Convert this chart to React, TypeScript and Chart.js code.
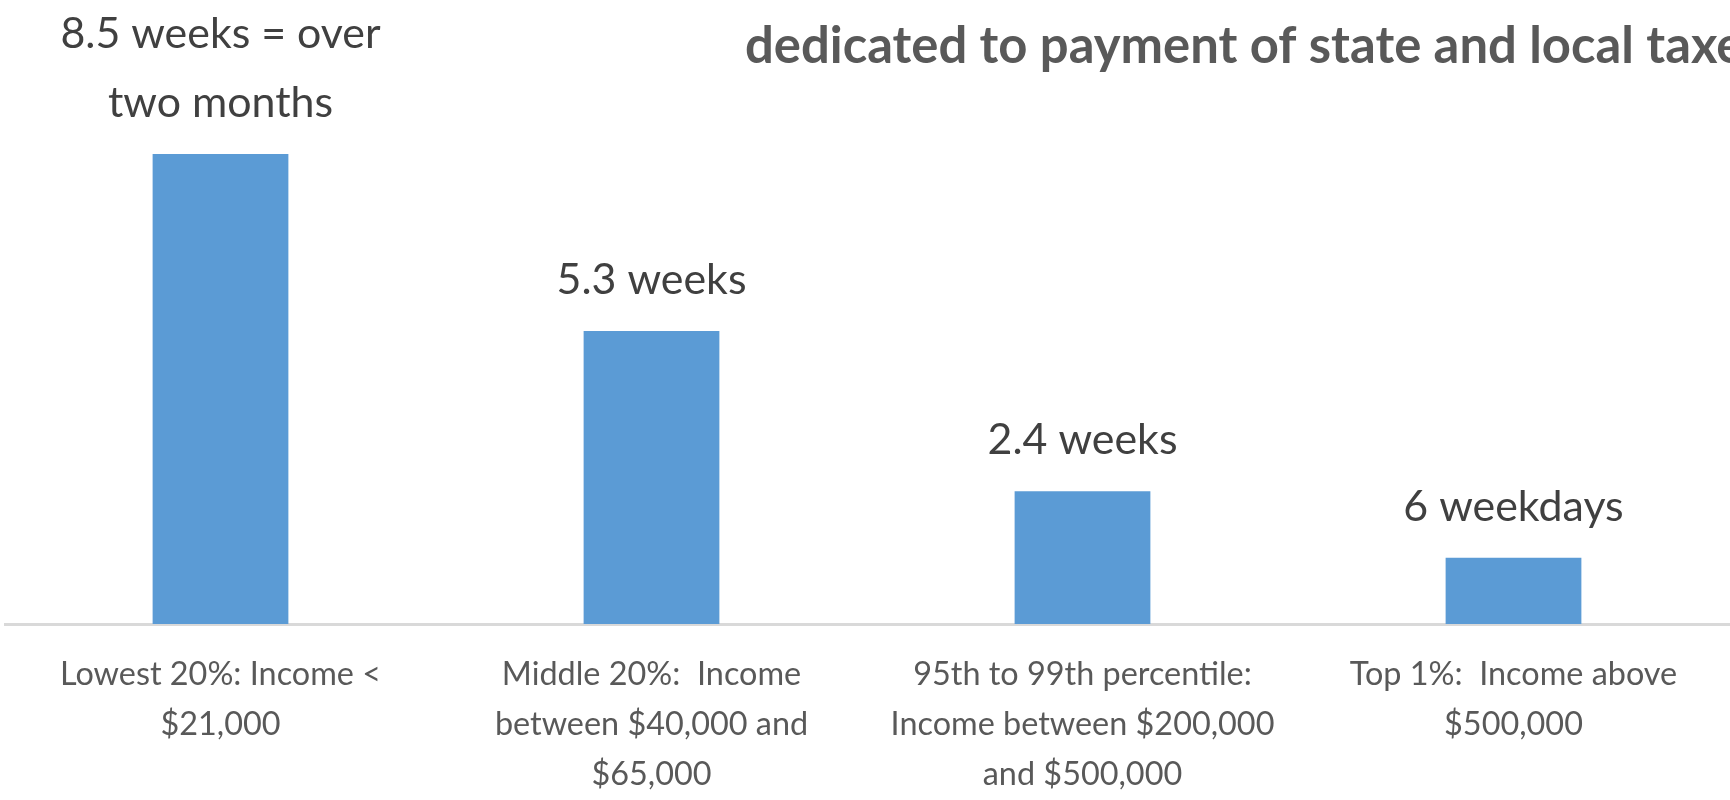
import React, { useEffect, useRef } from "react";
import { Chart, registerables } from "chart.js";

Chart.register(...registerables);

// ---- data ----
const categories: string[][] = [
  ["Lowest 20%: Income <", "$21,000"],
  ["Middle 20%:  Income", "between $40,000 and", "$65,000"],
  ["95th to 99th percentile:", "Income between $200,000", "and $500,000"],
  ["Top 1%:  Income above", "$500,000"],
];
const weeksOfIncome: number[] = [8.5, 5.3, 2.4, 1.2];
const valueLabels: string[][] = [
  ["8.5 weeks = over", "two months"],
  ["5.3 weeks"],
  ["2.4 weeks"],
  ["6 weekdays"],
];
const titleText = "dedicated to payment of state and local taxes";

const FAMILY = 'Lato, "Liberation Sans", sans-serif';

// size a font so that a sample string reaches a target width (mimics the narrow original face)
function fitSize(sample: string, weight: string, targetWidth: number): number {
  const c = document.createElement("canvas");
  const ctx = c.getContext("2d")!;
  ctx.font = `${weight} 100px ${FAMILY}`;
  const w = ctx.measureText(sample).width;
  return Math.round((1000 * targetWidth) / w) / 10;
}

export default function App() {
  const ref = useRef<HTMLCanvasElement | null>(null);

  useEffect(() => {
    if (!ref.current) return;
    const tickSize = fitSize("Lowest 20%: Income <", "normal", 321);
    const valueSize = fitSize("5.3 weeks", "normal", 190);
    const titleSize = fitSize("dedicated to payment of state and local ", "bold", 902);

    const valueLabelPlugin = {
      id: "valueLabels",
      afterDatasetsDraw(chart: any) {
        const ctx = chart.ctx;
        const meta = chart.getDatasetMeta(0);
        ctx.save();
        ctx.font = `${valueSize}px ${FAMILY}`;
        ctx.fillStyle = "#404040";
        ctx.textAlign = "center";
        ctx.textBaseline = "alphabetic";
        meta.data.forEach((bar: any, i: number) => {
          const lines = valueLabels[i] || [];
          const n = lines.length;
          lines.forEach((line, j) => {
            const y = bar.y - 37 - (n - 1 - j) * 69;
            ctx.fillText(line, bar.x, y);
          });
        });
        ctx.restore();
      },
    };

    const titlePlugin = {
      id: "clippedTitle",
      afterDraw(chart: any) {
        const ctx = chart.ctx;
        ctx.save();
        ctx.font = `bold ${titleSize}px ${FAMILY}`;
        ctx.fillStyle = "#595959";
        ctx.textAlign = "left";
        ctx.textBaseline = "alphabetic";
        ctx.fillText(titleText, 745, 63);
        ctx.restore();
      },
    };

    const chart = new Chart(ref.current, {
      type: "bar",
      data: {
        labels: categories as any,
        datasets: [
          {
            data: weeksOfIncome,
            backgroundColor: "#5B9BD5",
            barPercentage: 0.315,
            categoryPercentage: 1,
          },
        ],
      },
      options: {
        animation: false,
        responsive: false,
        devicePixelRatio: 1,
        layout: { padding: { top: 71, left: 5, right: 1, bottom: 0 } },
        plugins: {
          legend: { display: false },
          tooltip: { enabled: false },
          title: { display: false },
        },
        scales: {
          x: {
            grid: { display: false, drawTicks: false },
            border: { display: true, color: "#d9d9d9", width: 3 },
            ticks: {
              color: "#595959",
              font: { family: FAMILY, size: tickSize, lineHeight: 50 / tickSize },
              padding: 26,
              maxRotation: 0,
              autoSkip: false,
            },
            afterFit: (s: any) => {
              s.height = 176;
            },
          },
          y: { display: false, min: 0, max: 10 },
        },
      },
      plugins: [valueLabelPlugin, titlePlugin],
    });
    return () => chart.destroy();
  }, []);

  return (
    <div style={{ position: "absolute", left: 0, top: 0, width: 1730, height: 800, background: "#fff" }}>
      <canvas ref={ref} width={1730} height={800} style={{ display: "block" }} />
    </div>
  );
}
